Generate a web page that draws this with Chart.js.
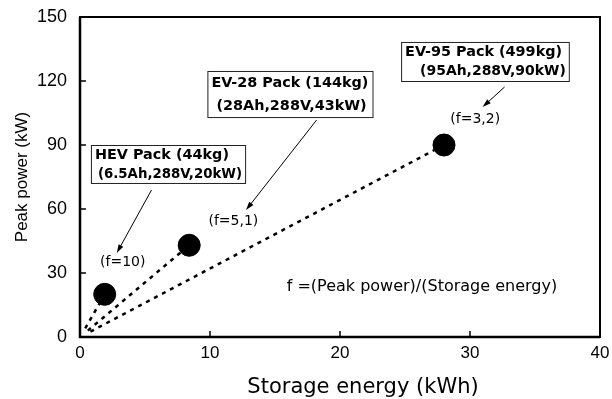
<!DOCTYPE html>
<html>
<head>
<meta charset="utf-8">
<script src="https://cdn.jsdelivr.net/npm/chart.js@4"></script>
<style>
  html, body { margin: 0; padding: 0; background: #fff; }
  #wrap { width: 612px; height: 399px; }
</style>
</head>
<body>
<div id="wrap"><canvas id="packChart" width="612" height="399"></canvas></div>
<script>
// pack data: storage energy (kWh) vs peak power (kW)
const energy = [1.9, 8.4, 28];
const power = [20, 43, 90];
const lineStartEnergy = [0.4, 0.6, 0.8];
const lineStartPower = [4, 3, 2.5];
const packNames = ['HEV Pack (44kg)', 'EV-28 Pack (144kg)', 'EV-95 Pack (499kg)'];
const packSpecs = ['(6.5Ah,288V,20kW)', '(28Ah,288V,43kW)', '(95Ah,288V,90kW)'];
const ratioLabels = ['(f=10)', '(f=5,1)', '(f=3,2)'];
const xTicks = [0, 10, 20, 30, 40];
const yTicks = [0, 30, 60, 90, 120, 150];

const dejavu = '"DejaVu Sans", sans-serif';
const arial = '"Liberation Sans", Arial, sans-serif';

// where the callout boxes, arrows and labels sit (in axis units)
const boxes = [
    { x0: 0.84, x1: 12.7, y0: 90, y1: 72.2, indent: [4, 7] },
    { x0: 9.8, x1: 22.5, y0: 124.7, y1: 103.1, indent: [4, 9] },
    { x0: 24.7, x1: 37.6, y0: 138.3, y1: 120.0, indent: [4, 19] }
];
const arrows = [
    { x0: 5.5, y0: 68.9, x1: 2.83, y1: 39.4 },
    { x0: 18.2, y0: 101.7, x1: 12.77, y1: 59.5 },
    { x0: 32.66, y0: 117.2, x1: 30.97, y1: 107.8 }
];
const ratioPos = [
    { x: 3.29, y: 35.2 },
    { x: 11.8, y: 54.4 },
    { x: 30.4, y: 102 }
];

function lineData(i) {
    return [
        { x: lineStartEnergy[i], y: lineStartPower[i] },
        { x: energy[i], y: power[i] }
    ];
}

const annotations = {
    id: 'annotations',
    afterDatasetsDraw(chart) {
        const ctx = chart.ctx;
        const xs = chart.scales.x;
        const ys = chart.scales.y;
        const area = chart.chartArea;
        ctx.save();

        // frame and inward ticks
        ctx.strokeStyle = '#000';
        ctx.lineWidth = 2;
        ctx.strokeRect(area.left, area.top, area.right - area.left, area.bottom - area.top);
        ctx.lineWidth = 2.5;
        ctx.beginPath();
        ctx.moveTo(area.left, area.top);
        ctx.lineTo(area.left, area.bottom);
        ctx.lineTo(area.right, area.bottom);
        ctx.stroke();
        ctx.lineWidth = 1.5;
        ctx.beginPath();
        xTicks.slice(1, -1).forEach(v => {
            const px = xs.getPixelForValue(v);
            ctx.moveTo(px, area.bottom);
            ctx.lineTo(px, area.bottom - 6);
        });
        yTicks.slice(1, -1).forEach(v => {
            const py = ys.getPixelForValue(v);
            ctx.moveTo(area.left, py);
            ctx.lineTo(area.left + 6, py);
        });
        ctx.stroke();

        // callout boxes
        boxes.forEach((b, i) => {
            const left = xs.getPixelForValue(b.x0);
            const right = xs.getPixelForValue(b.x1);
            const top = ys.getPixelForValue(b.y0);
            const bottom = ys.getPixelForValue(b.y1);
            ctx.fillStyle = '#fff';
            ctx.fillRect(left, top, right - left, bottom - top);
            ctx.strokeStyle = '#222';
            ctx.lineWidth = 1;
            ctx.strokeRect(left + 0.5, top + 0.5, right - left, bottom - top);
            ctx.fillStyle = '#000';
            ctx.font = 'bold 14.4px ' + dejavu;
            ctx.textBaseline = 'middle';
            ctx.textAlign = 'left';
            const h = bottom - top;
            ctx.fillText(packNames[i], left + b.indent[0], top + h * 0.27, right - left - b.indent[0] - 3);
            ctx.fillText(packSpecs[i], left + b.indent[1], top + h * 0.76, right - left - b.indent[1] - 3);
        });

        // arrows
        arrows.forEach(a => {
            const x0 = xs.getPixelForValue(a.x0), y0 = ys.getPixelForValue(a.y0);
            const x1 = xs.getPixelForValue(a.x1), y1 = ys.getPixelForValue(a.y1);
            const ang = Math.atan2(y1 - y0, x1 - x0);
            ctx.strokeStyle = '#000';
            ctx.lineWidth = 1;
            ctx.beginPath();
            ctx.moveTo(x0, y0);
            ctx.lineTo(x1 - 6 * Math.cos(ang), y1 - 6 * Math.sin(ang));
            ctx.stroke();
            ctx.fillStyle = '#000';
            ctx.beginPath();
            ctx.moveTo(x1, y1);
            ctx.lineTo(x1 - 9 * Math.cos(ang - 0.3), y1 - 9 * Math.sin(ang - 0.3));
            ctx.lineTo(x1 - 9 * Math.cos(ang + 0.3), y1 - 9 * Math.sin(ang + 0.3));
            ctx.closePath();
            ctx.fill();
        });

        // ratio labels
        ctx.font = '14px ' + dejavu;
        ctx.textAlign = 'center';
        ctx.textBaseline = 'middle';
        ratioPos.forEach((p, i) => {
            ctx.fillText(ratioLabels[i], xs.getPixelForValue(p.x), ys.getPixelForValue(p.y));
        });

        ctx.font = '16px ' + dejavu;
        ctx.textAlign = 'left';
        ctx.fillText('f =(Peak power)/(Storage energy)', xs.getPixelForValue(15.9), ys.getPixelForValue(23.4));

        // x axis title
        ctx.font = '21px ' + dejavu;
        ctx.textAlign = 'center';
        ctx.fillText('Storage energy (kWh)', 363, 388);
        ctx.restore();
    }
};

Chart.defaults.color = '#000';

const ctx = document.getElementById('packChart').getContext('2d');
window.packChart = new Chart(ctx, {
    type: 'scatter',
    data: {
        datasets: [
            {
                label: 'Packs',
                data: energy.map((e, i) => ({ x: e, y: power[i] })),
                backgroundColor: '#000',
                borderColor: '#000',
                pointRadius: 11,
                pointHoverRadius: 11,
                order: 0
            },
            ...[0, 1, 2].map(i => ({
                label: 'f' + i,
                data: lineData(i),
                showLine: true,
                borderColor: '#000',
                borderWidth: 2.5,
                borderDash: [4, 5],
                pointRadius: 0,
                order: 1
            }))
        ]
    },
    options: {
        responsive: false,
        animation: false,
        layout: { padding: { left: 0, right: 9, top: 17, bottom: 0 } },
        plugins: { legend: { display: false }, tooltip: { enabled: false } },
        scales: {
            x: {
                type: 'linear',
                min: 0,
                max: 40,
                afterBuildTicks: s => { s.ticks = xTicks.map(v => ({ value: v })); },
                afterFit: s => {
                    s.height = 62;
                    s.paddingLeft = 0;
                    s.paddingRight = 0;
                },
                grid: { display: false, drawTicks: false },
                border: { display: false },
                ticks: { padding: 6, font: { family: arial, size: 17 } },
                title: { display: false }
            },
            y: {
                type: 'linear',
                min: 0,
                max: 150,
                afterBuildTicks: s => { s.ticks = yTicks.map(v => ({ value: v })); },
                afterFit: s => {
                    s.width = 80;
                    s.paddingTop = 0;
                    s.paddingBottom = 0;
                },
                grid: { display: false, drawTicks: false },
                border: { display: false },
                ticks: { padding: 13, font: { family: arial, size: 18 } },
                title: {
                    display: true,
                    text: 'Peak power (kW)',
                    font: { family: arial, size: 17 },
                    padding: { top: 12, bottom: 0 }
                }
            }
        }
    },
    plugins: [annotations]
});
</script>
</body>
</html>
